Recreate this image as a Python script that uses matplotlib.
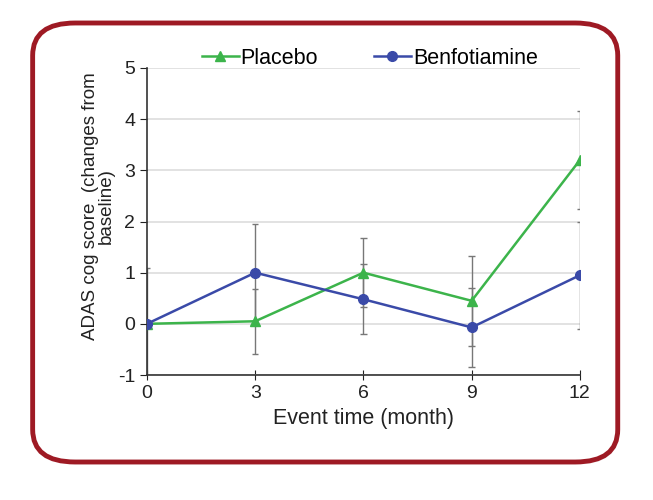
import numpy as np
import matplotlib
matplotlib.use("Agg")
import matplotlib.pyplot as plt
from matplotlib.patches import FancyBboxPatch

plt.rcParams['font.family'] = ['Liberation Sans', 'DejaVu Sans']
plt.rcParams['axes.unicode_minus'] = False

months = [0, 3, 6, 9, 12]
placebo = [0.0, 0.05, 1.0, 0.45, 3.2]
placebo_err = [0.0, 0.63, 0.68, 0.88, 0.95]
benfo = [0.0, 1.0, 0.48, -0.07, 0.95]
benfo_err = [1.1, 0.95, 0.68, 0.78, 1.05]

green = '#3cb44b'
blue = '#3a4aa8'
errc = '#777777'

fig = plt.figure(figsize=(6.53, 5.0), dpi=100)
fig.patch.set_facecolor('white')

# shadow + red rounded frame
for i, a in enumerate([0.05, 0.07, 0.09, 0.12]):
    off = 0.014 - i * 0.003
    sh = FancyBboxPatch((0.055 + off * 0.4, 0.085 - off), 0.885, 0.865,
                        boxstyle="round,pad=0,rounding_size=0.06",
                        transform=fig.transFigure, facecolor='#555555',
                        edgecolor='none', alpha=a, zorder=0)
    fig.patches.append(sh)
frame = FancyBboxPatch((0.05, 0.076), 0.896, 0.878,
                       boxstyle="round,pad=0,rounding_size=0.065",
                       transform=fig.transFigure, facecolor='white',
                       edgecolor='#9e1a24', linewidth=3.5, zorder=1)
fig.patches.append(frame)

ax = fig.add_axes([0.225, 0.25, 0.663, 0.614])
ax.set_facecolor('none')
ax.set_zorder(2)

# error bars drawn as lines so that caps get clipped at the axes edge
cap = 0.09
for y, e in [(placebo, placebo_err), (benfo, benfo_err)]:
    y = np.array(y)
    e = np.array(e)
    ax.vlines(months, y - e, y + e, color=errc, lw=1.0, zorder=2)
    for yy in (y - e, y + e):
        ax.hlines(yy, np.array(months) - cap, np.array(months) + cap,
                  color=errc, lw=1.0, zorder=2)

ax.plot(months, placebo, color=green, lw=1.8, marker='^', ms=7, label='Placebo', zorder=3)
ax.plot(months, benfo, color=blue, lw=1.8, marker='o', ms=7, label='Benfotiamine', zorder=4)

ax.set_xlim(0, 12)
ax.set_ylim(-1, 5)
ax.set_xticks(months)
ax.set_yticks(range(-1, 6))
ax.grid(axis='y', color='#dddddd', lw=1.2)
ax.set_axisbelow(True)
for s in ['top', 'right']:
    ax.spines[s].set_visible(False)
for s in ['left', 'bottom']:
    ax.spines[s].set_color('#333333')
    ax.spines[s].set_linewidth(1.2)
ax.tick_params(axis='x', direction='inout', length=7, labelsize=14, colors='#222222', pad=4)
ax.tick_params(axis='y', direction='out', length=5, labelsize=14, colors='#222222')
ax.set_xlabel('Event time (month)', fontsize=15.5, color='#222222', labelpad=4)
ax.set_ylabel('ADAS cog score  (changes from\nbaseline)', fontsize=13.5, color='#222222',
              linespacing=0.9)
ax.yaxis.set_label_coords(-0.074, 0.55)

ax.legend(loc='lower center', bbox_to_anchor=(0.515, 0.935), ncol=2, frameon=False,
          fontsize=15.5, handlelength=1.7, handletextpad=0.1, columnspacing=2.6)

fig.savefig('out.png', dpi=100)
